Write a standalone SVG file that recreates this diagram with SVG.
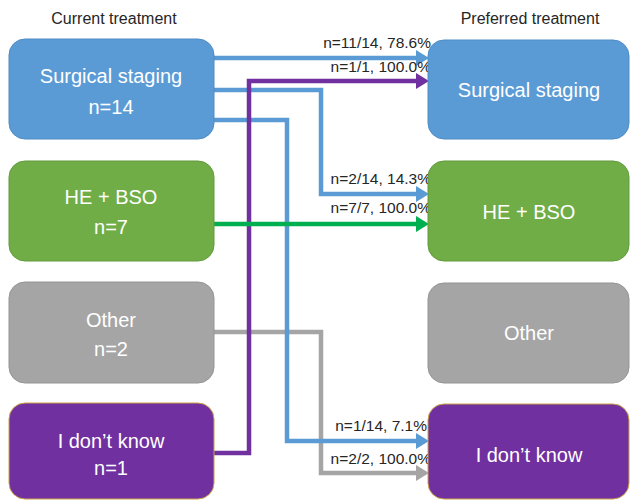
<svg xmlns="http://www.w3.org/2000/svg" width="630" height="500" viewBox="0 0 630 500">
<style>
.title{font-family:"Liberation Sans",Arial,sans-serif;font-size:16px;fill:#262626;text-anchor:middle}
.lbl{font-family:"Liberation Sans",Arial,sans-serif;font-size:15.5px;fill:#262626;text-anchor:end}
.bt{font-family:"Liberation Sans",Arial,sans-serif;font-size:20px;fill:#ffffff;text-anchor:middle}
.blue{fill:#5B9BD5;stroke:#4F8CC4;stroke-width:1}
.green{fill:#70AD47;stroke:#629A3C;stroke-width:1}
.gray{fill:#A5A5A5;stroke:#949494;stroke-width:1}
.purple{fill:#7030A0;stroke:#C9A24A;stroke-width:1}
.c{fill:none;stroke-width:4.5}
</style>
<defs>
<marker id="ab" markerUnits="userSpaceOnUse" markerWidth="14" markerHeight="16" refX="0" refY="8" orient="auto"><path d="M0,0 L13,8 L0,16 Z" fill="#5B9BD5"/></marker>
<marker id="ap" markerUnits="userSpaceOnUse" markerWidth="14" markerHeight="16" refX="0" refY="8" orient="auto"><path d="M0,0 L13,8 L0,16 Z" fill="#7030A0"/></marker>
<marker id="ag" markerUnits="userSpaceOnUse" markerWidth="14" markerHeight="16" refX="0" refY="8" orient="auto"><path d="M0,0 L13,8 L0,16 Z" fill="#00B050"/></marker>
<marker id="ay" markerUnits="userSpaceOnUse" markerWidth="14" markerHeight="16" refX="0" refY="8" orient="auto"><path d="M0,0 L13,8 L0,16 Z" fill="#A5A5A5"/></marker>
</defs>
<rect width="630" height="500" fill="#ffffff"/>
<text class="title" x="114" y="24">Current treatment</text>
<text class="title" x="530" y="24">Preferred treatment</text>

<g id="connectors">
<path class="c" stroke="#A5A5A5" d="M214,332 H321 V473 H416" marker-end="url(#ay)"/>
<path class="c" stroke="#5B9BD5" d="M214,120 H287 V441 H416" marker-end="url(#ab)"/>
<path class="c" stroke="#5B9BD5" d="M214,90 H321 V194 H416" marker-end="url(#ab)"/>
<path class="c" stroke="#7030A0" d="M214,453 H249 V81 H416" marker-end="url(#ap)"/>
<path class="c" stroke="#5B9BD5" d="M214,58 H416" marker-end="url(#ab)"/>
<path class="c" stroke="#00B050" d="M214,224 H416" marker-end="url(#ag)"/>
<text class="lbl" x="431" y="48">n=11/14, 78.6%</text>
<text class="lbl" x="431" y="72">n=1/1, 100.0%</text>
<text class="lbl" x="431" y="184">n=2/14, 14.3%</text>
<text class="lbl" x="431" y="213">n=7/7, 100.0%</text>
<text class="lbl" x="427" y="431">n=1/14, 7.1%</text>
<text class="lbl" x="431" y="464">n=2/2, 100.0%</text>
</g>

<g id="cur-surgical"><rect class="blue" x="9" y="39" width="205" height="100" rx="16"/><text class="bt" x="111" y="83">Surgical staging</text><text class="bt" x="111" y="114">n=14</text></g>
<g id="cur-hebso"><rect class="green" x="9" y="161" width="205" height="100" rx="16"/><text class="bt" x="111" y="204">HE + BSO</text><text class="bt" x="111" y="234">n=7</text></g>
<g id="cur-other"><rect class="gray" x="9" y="282" width="205" height="101" rx="16"/><text class="bt" x="111" y="327">Other</text><text class="bt" x="111" y="356">n=2</text></g>
<g id="cur-idk"><rect class="purple" x="9" y="403" width="205" height="96" rx="16"/><text class="bt" x="111" y="448">I don’t know</text><text class="bt" x="111" y="475">n=1</text></g>

<g id="pref-surgical"><rect class="blue" x="428" y="40" width="201" height="99" rx="16"/><text class="bt" x="529" y="97">Surgical staging</text></g>
<g id="pref-hebso"><rect class="green" x="428" y="161" width="201" height="100" rx="16"/><text class="bt" x="529" y="219">HE + BSO</text></g>
<g id="pref-other"><rect class="gray" x="428" y="283" width="201" height="100" rx="16"/><text class="bt" x="529" y="340">Other</text></g>
<g id="pref-idk"><rect class="purple" x="428" y="404" width="201" height="95" rx="16"/><text class="bt" x="529" y="462">I don’t know</text></g>
</svg>
